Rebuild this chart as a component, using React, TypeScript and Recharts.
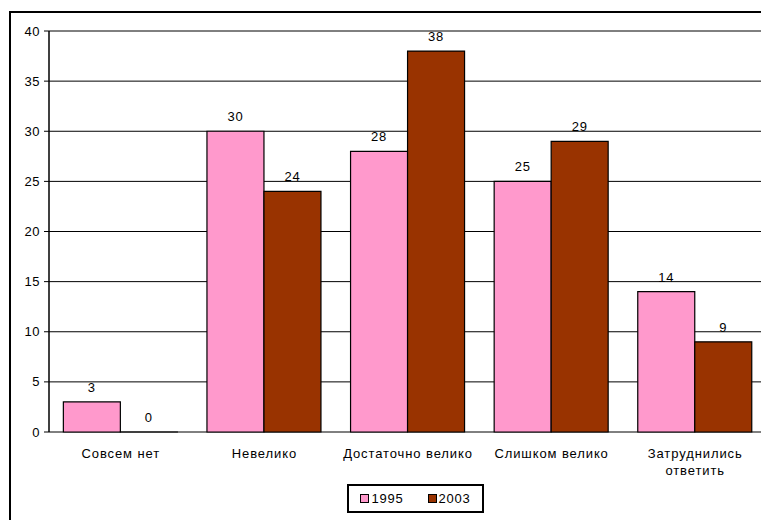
import { BarChart, Bar, XAxis, YAxis, CartesianGrid, LabelList } from 'recharts'

const categories = ['Совсем нет', 'Невелико', 'Достаточно велико', 'Слишком велико', 'Затруднились ответить']
const values1995 = [3, 30, 28, 25, 14]
const values2003 = [0, 24, 38, 29, 9]
const yTicks = [0, 5, 10, 15, 20, 25, 30, 35, 40]
const edgeTicks = [0, 1, 2, 3, 4, 5]

const data = categories.map((name, i) => ({
  name,
  idx: i + 0.5,
  y1995: values1995[i],
  y2003: values2003[i],
}))

const FONT = '"Liberation Sans", Arial, sans-serif'
const wrapped: Record<string, string[]> = {
  'Затруднились ответить': ['Затруднились', 'ответить'],
}

const CategoryTick = (props: any) => {
  const { x, y, payload } = props
  const lines = wrapped[payload.value] || [payload.value]
  return (
    <text x={x} y={y + 18} textAnchor="middle" fontSize={13} fill="#000" fontFamily={FONT} letterSpacing={0.9}>
      {lines.map((l, i) => (
        <tspan key={i} x={x} dy={i === 0 ? 0 : 17}>
          {l}
        </tspan>
      ))}
    </text>
  )
}

const EmptyTick = () => <g />

const BarLabel = (props: any) => {
  const { x, y, width, height, value } = props
  const top = Math.min(y, y + height)
  return (
    <text x={x + width / 2} y={top - 10} textAnchor="middle" fontSize={13} fill="#000" fontFamily={FONT} letterSpacing={0.8}>
      {String(value)}
    </text>
  )
}

const legendItems = [
  { label: '1995', color: '#FF99CC' },
  { label: '2003', color: '#993300' },
]

const LegendBox = () => (
  <div
    style={{
      position: 'absolute',
      left: 347,
      top: 484,
      width: 137,
      height: 29,
      boxSizing: 'border-box',
      border: '2px solid #000',
      display: 'flex',
      alignItems: 'center',
      justifyContent: 'center',
      gap: 24,
      fontFamily: FONT,
      fontSize: 13,
      letterSpacing: 0.8,
      background: '#fff',
    }}
  >
    {legendItems.map((it) => (
      <span key={it.label} style={{ display: 'flex', alignItems: 'center' }}>
        <span style={{ width: 7, height: 7, background: it.color, border: '1px solid #000', marginRight: 2 }} />
        {it.label}
      </span>
    ))}
  </div>
)

export default function App() {
  return (
    <div style={{ position: 'fixed', left: 0, top: 0, width: 761, height: 520, overflow: 'hidden', background: '#fff' }}>
      <div
        style={{
          position: 'absolute',
          left: 9,
          top: 11,
          width: 800,
          height: 600,
          border: '2px solid #000',
          boxSizing: 'border-box',
        }}
      />
      <div style={{ position: 'absolute', left: 0, top: 0 }}>
        <BarChart
          width={785}
          height={520}
          data={data}
          margin={{ top: 31, right: 18, left: 9, bottom: 28 }}
          barCategoryGap="10%"
          barGap={0}
        >
          <CartesianGrid vertical={false} stroke="#000" strokeWidth={1} />
          <XAxis
            xAxisId="edges"
            type="number"
            dataKey="idx"
            domain={[0, 5]}
            ticks={edgeTicks}
            tick={EmptyTick}
            tickLine={{ stroke: '#000' }}
            tickSize={5}
            axisLine={{ stroke: '#000', strokeWidth: 1.5 }}
            height={0}
          />
          <XAxis
            xAxisId="cat"
            dataKey="name"
            tick={CategoryTick}
            tickLine={false}
            axisLine={false}
            interval={0}
            height={60}
          />
          <YAxis
            domain={[0, 40]}
            ticks={yTicks}
            width={40}
            tickSize={5}
            tickLine={{ stroke: '#000' }}
            axisLine={{ stroke: '#000', strokeWidth: 1.5 }}
            tick={{ fill: '#000', fontSize: 13, fontFamily: FONT, letterSpacing: 0.5 }}
            tickMargin={4}
            interval={0}
          />
          <Bar dataKey="y1995" xAxisId="cat" name="1995" fill="#FF99CC" stroke="#000" strokeWidth={1.2} minPointSize={0.01} isAnimationActive={false}>
            <LabelList dataKey="y1995" content={BarLabel} />
          </Bar>
          <Bar dataKey="y2003" xAxisId="cat" name="2003" fill="#993300" stroke="#000" strokeWidth={1.2} minPointSize={0.01} isAnimationActive={false}>
            <LabelList dataKey="y2003" content={BarLabel} />
          </Bar>
        </BarChart>
      </div>
      <LegendBox />
    </div>
  )
}
